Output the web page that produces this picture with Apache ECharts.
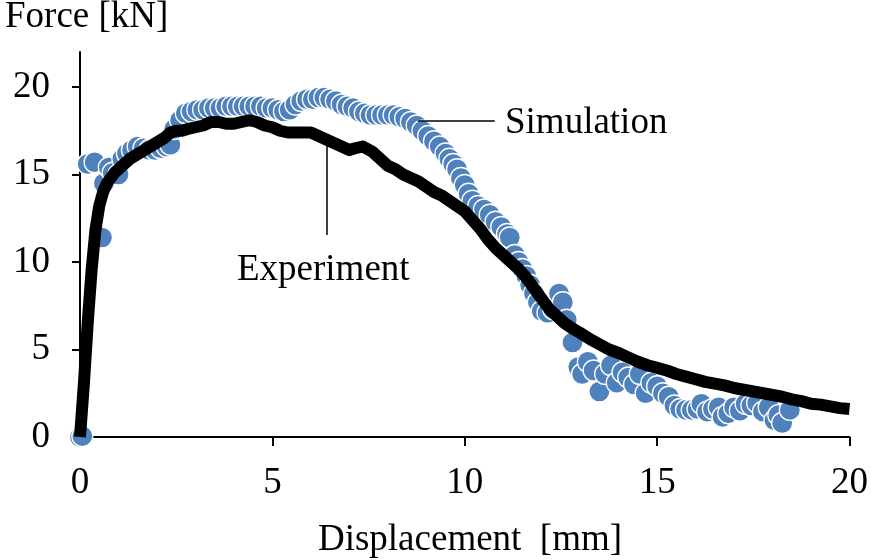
<!DOCTYPE html>
<html>
<head>
<meta charset="utf-8">
<script src="https://cdn.jsdelivr.net/npm/echarts@6/dist/echarts.min.js"></script>
<style>
  html, body { margin: 0; padding: 0; background: #fff; }
  #chart { width: 871px; height: 560px; }
</style>
</head>
<body>
<div id="chart"></div>
<script>
// Experiment curve [displacement mm, force kN]
const experiment = [
  [0, 0], [0.1, 3.0], [0.2, 6.5], [0.3, 9.5], [0.4, 11.8], [0.5, 13.2], [0.6, 14.0],
  [0.7, 14.5], [0.8, 14.8], [0.9, 15.1], [1.0, 15.3], [1.15, 15.6], [1.3, 15.9],
  [1.45, 16.1], [1.6, 16.3], [1.75, 16.5], [1.9, 16.7], [2.05, 16.9], [2.2, 17.1],
  [2.35, 17.4], [2.5, 17.5], [2.65, 17.5], [2.8, 17.6], [3.0, 17.7], [3.2, 17.8],
  [3.4, 18.0], [3.6, 18.0], [3.8, 17.9], [4.0, 17.9], [4.2, 18.0], [4.4, 18.1],
  [4.6, 18.0], [4.8, 17.8], [5.0, 17.7], [5.2, 17.5], [5.4, 17.4], [5.6, 17.4],
  [5.8, 17.4], [6.0, 17.4], [6.2, 17.2], [6.4, 17.0], [6.6, 16.8], [6.8, 16.6],
  [7.0, 16.4], [7.15, 16.5], [7.35, 16.6], [7.6, 16.3], [7.8, 15.9], [8.0, 15.5],
  [8.2, 15.3], [8.4, 15.0], [8.6, 14.8], [8.8, 14.6], [9.0, 14.3], [9.2, 14.0],
  [9.4, 13.8], [9.6, 13.5], [9.8, 13.2], [10.0, 12.9], [10.2, 12.4], [10.4, 11.9],
  [10.6, 11.3], [10.8, 10.8], [11.0, 10.4], [11.2, 10.0], [11.4, 9.6], [11.6, 9.1],
  [11.8, 8.5], [12.0, 7.9], [12.2, 7.3], [12.4, 6.9], [12.6, 6.5], [12.8, 6.2],
  [13.0, 5.95], [13.25, 5.6], [13.5, 5.3], [13.75, 5.0], [14.0, 4.8], [14.25, 4.55],
  [14.5, 4.3], [14.75, 4.1], [15.0, 3.95], [15.25, 3.8], [15.5, 3.6], [15.75, 3.45],
  [16.0, 3.3], [16.25, 3.15], [16.5, 3.05], [16.75, 2.95], [17.0, 2.8], [17.25, 2.7],
  [17.5, 2.6], [17.75, 2.5], [18.0, 2.4], [18.25, 2.3], [18.5, 2.15], [18.75, 2.05],
  [19.0, 1.9], [19.25, 1.85], [19.5, 1.75], [19.75, 1.65], [20.0, 1.6]
];

// Simulation points [displacement mm, force kN]
const simulation = [
  [0.0, 0.0], [0.06, 0.05], [0.2, 15.6], [0.38, 15.7], [0.57, 11.4], [0.62, 14.5],
  [0.75, 15.4], [0.85, 15.1], [1.0, 15.0], [1.1, 15.9], [1.22, 16.2], [1.35, 16.4],
  [1.5, 16.6], [1.65, 16.5], [1.8, 16.4], [1.95, 16.4], [2.1, 16.5], [2.25, 16.6],
  [2.35, 16.7], [2.45, 17.6], [2.6, 18.1], [2.75, 18.5], [2.9, 18.6], [3.05, 18.7],
  [3.2, 18.7], [3.35, 18.8], [3.5, 18.8], [3.65, 18.8], [3.8, 18.9], [3.95, 18.9],
  [4.1, 18.9], [4.25, 18.9], [4.4, 18.9], [4.55, 18.9], [4.7, 18.9], [4.85, 18.8],
  [5.0, 18.8], [5.15, 18.7], [5.3, 18.6], [5.45, 18.7], [5.6, 19.0], [5.75, 19.2],
  [5.9, 19.3], [6.05, 19.3], [6.2, 19.4], [6.35, 19.4], [6.5, 19.3], [6.65, 19.2],
  [6.8, 19.0], [6.95, 18.9], [7.1, 18.8], [7.25, 18.6], [7.4, 18.5], [7.55, 18.4],
  [7.7, 18.4], [7.85, 18.4], [8.0, 18.4], [8.15, 18.4], [8.3, 18.3], [8.45, 18.2],
  [8.6, 18.0], [8.75, 17.8], [8.9, 17.5], [9.05, 17.2], [9.2, 16.9], [9.35, 16.6],
  [9.5, 16.2], [9.6, 15.9], [9.7, 15.6], [9.8, 15.3], [9.9, 14.8], [10.0, 14.4],
  [10.1, 13.9], [10.2, 13.5], [10.35, 13.2], [10.5, 13.0], [10.65, 12.7], [10.8, 12.3],
  [10.95, 12.0], [11.1, 11.6], [11.17, 11.4], [11.3, 10.4], [11.4, 10.0], [11.5, 9.6],
  [11.6, 9.2], [11.7, 8.7], [11.8, 8.2], [11.9, 7.7], [12.0, 7.2], [12.15, 7.1],
  [12.3, 7.3], [12.45, 8.2], [12.55, 7.7], [12.65, 6.7], [12.8, 5.4], [12.95, 4.0],
  [13.05, 3.6], [13.2, 4.3], [13.35, 3.8], [13.5, 2.6], [13.65, 3.6], [13.8, 4.1],
  [13.95, 3.1], [14.1, 3.7], [14.25, 3.4], [14.4, 3.0], [14.55, 3.6], [14.7, 2.5],
  [14.85, 3.1], [15.0, 2.9], [15.15, 2.5], [15.3, 2.3], [15.45, 1.8], [15.6, 1.6],
  [15.75, 1.55], [15.9, 1.55], [16.05, 1.6], [16.15, 1.9], [16.3, 1.45], [16.45, 1.6],
  [16.6, 1.7], [16.7, 1.15], [16.85, 1.35], [17.0, 1.7], [17.15, 1.5], [17.3, 1.9],
  [17.45, 1.8], [17.6, 1.95], [17.75, 1.45], [17.9, 1.7], [18.05, 0.95], [18.15, 1.25],
  [18.25, 0.8], [18.45, 1.55]
];

const xTicks = [0, 5, 10, 15, 20];
const yTicks = [0, 5, 10, 15, 20];

const serif = "'Liberation Serif', 'Times New Roman', serif";

const chart = echarts.init(document.getElementById("chart"));
chart.setOption({
  animation: false,
  grid: { left: 80, right: 21, top: 52, bottom: 123 },
  xAxis: {
    type: "value",
    min: 0,
    max: 20,
    interval: 5,
    splitLine: { show: false },
    axisLine: { lineStyle: { color: "#000", width: 2 } },
    axisTick: { length: 9, customValues: xTicks, lineStyle: { color: "#000", width: 2 } },
    axisLabel: { margin: 28, color: "#000", fontSize: 37, fontFamily: serif, customValues: xTicks }
  },
  yAxis: {
    type: "value",
    min: 0,
    max: 22,
    interval: 5,
    splitLine: { show: false },
    axisLine: { show: true, lineStyle: { color: "#000", width: 2 } },
    axisTick: { show: true, length: 8, customValues: yTicks, lineStyle: { color: "#000", width: 2 } },
    axisLabel: { margin: 30, color: "#000", fontSize: 37, fontFamily: serif, customValues: yTicks }
  },
  series: [
    {
      name: "Simulation",
      type: "scatter",
      data: simulation,
      symbol: "circle",
      symbolSize: 21,
      z: 2,
      itemStyle: { color: "#4F81BD", borderColor: "#fff", borderWidth: 1.3, opacity: 1 }
    },
    {
      name: "Experiment",
      type: "line",
      data: experiment,
      showSymbol: false,
      symbol: "none",
      z: 3,
      lineStyle: { color: "#000", width: 12, join: "round", cap: "butt" },
      markLine: {
        silent: true,
        symbol: ["none", "none"],
        label: { show: false },
        lineStyle: { color: "#000", width: 1.5, type: "solid" },
        data: [
          [{ coord: [8.78, 18.06] }, { coord: [10.78, 18.06] }],
          [{ coord: [6.42, 16.8] }, { coord: [6.42, 11.54] }]
        ]
      }
    }
  ],
  graphic: [
    { type: "text", x: 5, y: 17, style: { text: "Force [kN]", fontSize: 37, fontFamily: serif, fill: "#000", verticalAlign: "middle" } },
    { type: "text", x: 505, y: 123, style: { text: "Simulation", fontSize: 37, fontFamily: serif, fill: "#000", verticalAlign: "middle" } },
    { type: "text", x: 237, y: 270, style: { text: "Experiment", fontSize: 37, fontFamily: serif, fill: "#000", verticalAlign: "middle" } },
    { type: "text", x: 470, y: 540, style: { text: "Displacement  [mm]", fontSize: 37, fontFamily: serif, fill: "#000", align: "center", verticalAlign: "middle" } }
  ]
});
</script>
</body>
</html>
